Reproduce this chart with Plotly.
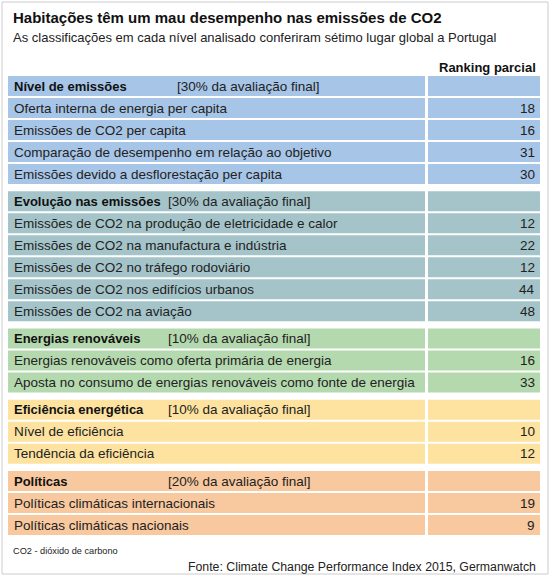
import plotly.graph_objects as go

# ---------------- data ----------------
title = "Habitações têm um mau desempenho nas emissões de CO2"
subtitle = "As classificações em cada nível analisado conferiram sétimo lugar global a Portugal"
column_header = "Ranking parcial"
footnote = "CO2 - dióxido de carbono"
source = "Fonte: Climate Change Performance Index 2015, Germanwatch"

sections = ["Nível de emissões", "Evolução nas emissões", "Energias renováveis",
            "Eficiência energética", "Políticas"]
section_weights = ["[30% da avaliação final]", "[30% da avaliação final]",
                   "[10% da avaliação final]", "[10% da avaliação final]",
                   "[20% da avaliação final]"]

indicators_emissoes = ["Oferta interna de energia per capita",
                       "Emissões de CO2 per capita",
                       "Comparação de desempenho em relação ao objetivo",
                       "Emissões devido a desflorestação per capita"]
ranking_emissoes = [18, 16, 31, 30]

indicators_evolucao = ["Emissões de CO2 na produção de eletricidade e calor",
                       "Emissões de CO2 na manufactura e indústria",
                       "Emissões de CO2 no tráfego rodoviário",
                       "Emissões de CO2 nos edifícios urbanos",
                       "Emissões de CO2 na aviação"]
ranking_evolucao = [12, 22, 12, 44, 48]

indicators_renovaveis = ["Energias renováveis como oferta primária de energia",
                         "Aposta no consumo de energias renováveis como fonte de energia"]
ranking_renovaveis = [16, 33]

indicators_eficiencia = ["Nível de eficiência", "Tendência da eficiência"]
ranking_eficiencia = [10, 12]

indicators_politicas = ["Políticas climáticas internacionais",
                        "Políticas climáticas nacionais"]
ranking_politicas = [19, 9]

section_indicators = [indicators_emissoes, indicators_evolucao, indicators_renovaveis,
                      indicators_eficiencia, indicators_politicas]
section_rankings = [ranking_emissoes, ranking_evolucao, ranking_renovaveis,
                    ranking_eficiencia, ranking_politicas]

# ---------------- style ----------------
section_colors = ["#a7c5e7", "#a5c4c9", "#b5d9ae", "#fee3a0", "#f8c89f"]
weight_offsets = [175, 166, 166, 166, 166]
W, H = 550, 577
FONT = "Liberation Sans, Arial, sans-serif"
TXT = "#222222"
ROW_FS = 13.5
row_step, section_gap, first_center, bar_h = 22, 5.25, 86, 20
left_x0, left_x1, right_x0, right_x1 = 8, 425, 428, 540

# ---------------- build rows ----------------
rows = []  # (y, color, kind, label, weight, rank, sec)
idx = 0
for s, name in enumerate(sections):
    y = first_center + idx * row_step + s * section_gap
    rows.append((y, section_colors[s], "head", name, section_weights[s], None, s))
    idx += 1
    for lab, rk in zip(section_indicators[s], section_rankings[s]):
        y = first_center + idx * row_step + s * section_gap
        rows.append((y, section_colors[s], "row", lab, None, rk, s))
        idx += 1

ys = [r[0] for r in rows]
cols = [r[1] for r in rows]

fig = go.Figure()
fig.add_trace(go.Bar(orientation="h", y=ys, x=[left_x1 - left_x0] * len(rows),
                     base=left_x0, width=bar_h, marker=dict(color=cols, line=dict(width=0)),
                     hoverinfo="skip", showlegend=False))
fig.add_trace(go.Bar(orientation="h", y=ys, x=[right_x1 - right_x0] * len(rows),
                     base=right_x0, width=bar_h, marker=dict(color=cols, line=dict(width=0)),
                     hoverinfo="skip", showlegend=False))

ann = []
for y, c, kind, label, weight, rk, s in rows:
    if kind == "head":
        ann.append(dict(x=12, y=y, text=f"<b>{label}</b>", xanchor="left", yanchor="middle",
                        font=dict(size=13, color="#111111", family=FONT)))
        ann.append(dict(x=weight_offsets[s], y=y, text=weight, xanchor="left", yanchor="middle",
                        font=dict(size=ROW_FS, color=TXT, family=FONT)))
    else:
        ann.append(dict(x=12, y=y, text=label, xanchor="left", yanchor="middle",
                        font=dict(size=ROW_FS, color=TXT, family=FONT)))
        ann.append(dict(x=537, y=y, text=str(rk), xanchor="right", yanchor="middle",
                        font=dict(size=ROW_FS, color=TXT, family=FONT)))

ann += [
    dict(x=11, y=17, text=f"<b>{title}</b>", xanchor="left", yanchor="middle",
         font=dict(size=15, color="#111111", family=FONT)),
    dict(x=11, y=37, text=subtitle, xanchor="left", yanchor="middle",
         font=dict(size=13, color=TXT, family=FONT)),
    dict(x=538, y=67, text=f"<b>{column_header}</b>", xanchor="right", yanchor="middle",
         font=dict(size=13, color="#111111", family=FONT)),
    dict(x=11, y=551, text=footnote, xanchor="left", yanchor="middle",
         font=dict(size=9.2, color=TXT, family=FONT)),
    dict(x=538, y=567, text=source, xanchor="right", yanchor="middle",
         font=dict(size=12.3, color=TXT, family=FONT)),
]
for a in ann:
    a.update(showarrow=False, xref="x", yref="y")

fig.update_layout(
    width=W, height=H, margin=dict(l=0, r=0, t=0, b=0),
    paper_bgcolor="white", plot_bgcolor="white", barmode="overlay",
    xaxis=dict(range=[0, W], visible=False, fixedrange=True),
    yaxis=dict(range=[H, 0], visible=False, fixedrange=True),
    annotations=ann,
    shapes=[dict(type="rect", xref="x", yref="y", x0=2, x1=548, y0=2, y1=574,
                 line=dict(color="#cccccc", width=1), fillcolor="rgba(0,0,0,0)", layer="below")],
)

fig.write_html("out.html", config={"displayModeBar": False},
               post_script="document.body.style.margin='0';document.body.style.overflow='hidden';")
